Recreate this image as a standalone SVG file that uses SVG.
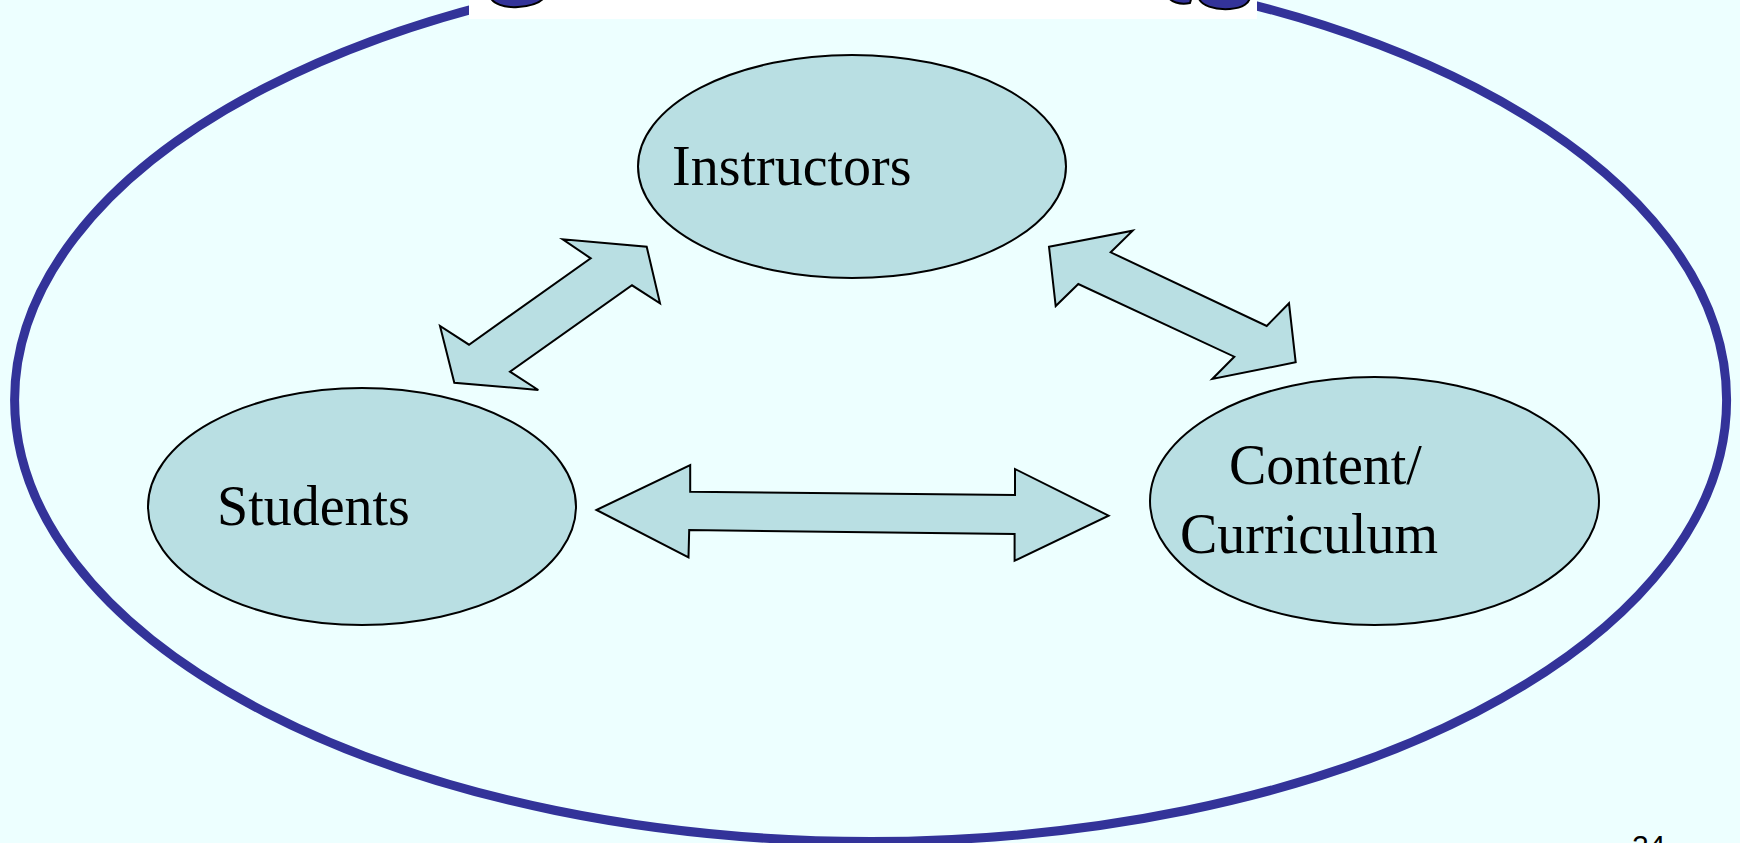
<svg xmlns="http://www.w3.org/2000/svg" width="1740" height="843" viewBox="0 0 1740 843">
<style>
.node{fill:#B9DFE3;stroke:#000;stroke-width:2}
.lbl{font-family:"Liberation Serif","Times New Roman",serif;font-size:56px;fill:#000}
.conn{fill:#B9DFE3;stroke:#000;stroke-width:2;stroke-linejoin:miter}
.blob{fill:#333399;stroke:#000;stroke-width:2}
</style>
<rect x="0" y="0" width="1740" height="843" fill="#EDFFFF"/>
<g id="frame">
<ellipse cx="870.6" cy="400" rx="856" ry="441.5" fill="none" stroke="#333399" stroke-width="9"/>
</g>
<g id="title">
<rect x="469" y="0" width="788" height="19" fill="#FFFFFF"/>
<path class="blob" d="M490,-4 C492,4 505,8 518,7 C532,6 542,2 545,-4 Z"/>
<path class="blob" d="M1168,-4 C1170,2 1180,5 1190,3 L1192,-4 Z"/>
<path class="blob" d="M1198,-4 C1200,6 1215,10 1230,9 C1243,8 1250,3 1250,-4 Z"/>
</g>
<g id="connectors">
<polygon class="conn" points="646.7,246.7 660,303.3 632,285.3 510,371.7 538.3,390 454.3,382.7 440,326 469,344.7 590.7,258.3 562.7,239.3"/>
<polygon class="conn" points="1049,246.7 1132.7,230.7 1110.7,252.3 1266.7,326 1289,303.3 1295.7,362.3 1212.3,379 1234.3,356.7 1078.3,284 1055.7,306"/>
<polygon class="conn" points="596.5,510 690.2,465 690.2,491.7 1015,495 1015,469 1108.6,515.7 1014.6,560.7 1014.6,534 689.2,530 688.5,557.3"/>
</g>
<g id="instructors">
<ellipse class="node" cx="852" cy="166.5" rx="214" ry="111.5"/>
<text class="lbl" x="672" y="185">Instructors</text>
</g>
<g id="students">
<ellipse class="node" cx="362" cy="506.5" rx="214" ry="118.5"/>
<text class="lbl" x="217" y="525">Students</text>
</g>
<g id="content">
<ellipse class="node" cx="1374.5" cy="501" rx="224.5" ry="124"/>
<text class="lbl" x="1229" y="484">Content/</text>
<text class="lbl" x="1180" y="553">Curriculum</text>
</g>
<text x="1632" y="856" font-family="Liberation Sans, Arial, sans-serif" font-size="30" fill="#000">24</text>
</svg>
